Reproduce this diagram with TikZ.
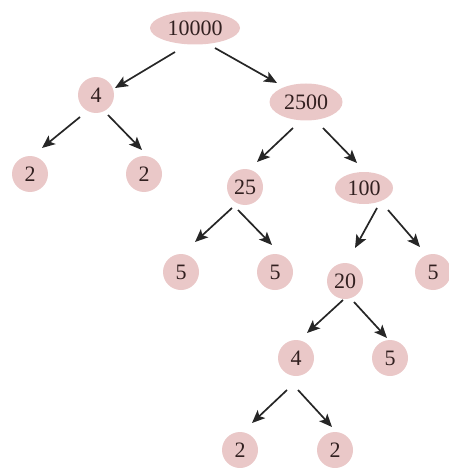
\documentclass[tikz,border=0pt]{standalone}
\usepackage{fontspec}
\setmainfont{Liberation Serif}
\usetikzlibrary{arrows.meta,shapes.geometric}
\definecolor{nodepink}{RGB}{234,200,200}
\definecolor{numbrown}{RGB}{50,32,32}
\begin{document}
\begin{tikzpicture}[x=1pt,y=-1pt]

\tikzstyle{factor}=[ellipse,fill=nodepink,inner sep=0pt,minimum width=36pt,minimum height=36pt,text=numbrown,font=\fontsize{22}{23}\selectfont]
\tikzstyle{split}=[-{Stealth[length=13pt,width=11pt,inset=3pt]},line width=1.7pt,black!85]

\useasboundingbox (0,0) rectangle (448,468);

\node [factor,minimum width=90pt,minimum height=33pt] (root) at (195,28) {10000};
\node [factor] (n4) at (96,95) {4};
\node [factor,minimum width=73pt,minimum height=37pt] (n2500) at (306,102) {2500};
\node [factor] (a2) at (30,174) {2};
\node [factor] (b2) at (144,174) {2};
\node [factor] (n25) at (245,187) {25};
\node [factor,minimum width=58pt,minimum height=32pt] (n100) at (364,188) {100};
\node [factor] (a5) at (181,272) {5};
\node [factor] (b5) at (275,272) {5};
\node [factor] (n20) at (345,281) {20};
\node [factor] (c5) at (433,272) {5};
\node [factor] (m4) at (296,358) {4};
\node [factor] (d5) at (390,358) {5};
\node [factor] (c2) at (240,450) {2};
\node [factor] (d2) at (335,450) {2};

\draw [split] ([shift={(-20,24)}]root.center) -- ([shift={(19,-7)}]n4.center);
\draw [split] ([shift={(20,20)}]root.center) -- ([shift={(-29,-19)}]n2500.center);
\draw [split] ([shift={(-16,22)}]n4.center) -- ([shift={(12,-26)}]a2.center);
\draw [split] ([shift={(12,20)}]n4.center) -- ([shift={(-2,-24)}]b2.center);
\draw [split] ([shift={(-13,26)}]n2500.center) -- ([shift={(12,-25)}]n25.center);
\draw [split] ([shift={(17,26)}]n2500.center) -- ([shift={(-7,-25)}]n100.center);
\draw [split] ([shift={(-13,21)}]n25.center) -- ([shift={(14,-30)}]a5.center);
\draw [split] ([shift={(-7,23)}]n25.center) -- ([shift={(-3,-27)}]b5.center);
\draw [split] ([shift={(13,20)}]n100.center) -- ([shift={(10,-33)}]n20.center);
\draw [split] ([shift={(24,22)}]n100.center) -- ([shift={(-13,-25)}]c5.center);
\draw [split] ([shift={(-2,19)}]n20.center) -- ([shift={(11,-25)}]m4.center);
\draw [split] ([shift={(9,21)}]n20.center) -- ([shift={(-3,-20)}]d5.center);
\draw [split] ([shift={(-9,32)}]m4.center) -- ([shift={(12,-27)}]c2.center);
\draw [split] ([shift={(2,32)}]m4.center) -- ([shift={(-3,-23)}]d2.center);
\end{tikzpicture}
\end{document}
